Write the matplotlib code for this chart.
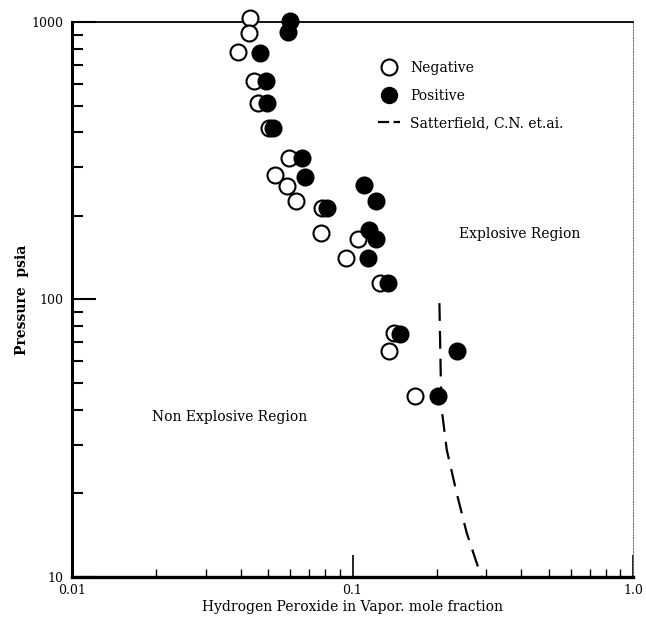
import matplotlib.pyplot as plt
from matplotlib.lines import Line2D

# negative (no explosion) tests, open circles
neg_x = [0.0431, 0.0429, 0.0390, 0.0447, 0.0459, 0.0505, 0.0592, 0.0529, 0.0583,
         0.0629, 0.0779, 0.0772, 0.1049, 0.0948, 0.1253, 0.1406, 0.1353, 0.167]
neg_p = [1031, 911, 781, 614, 512, 416, 323, 281, 256,
         226, 214, 174, 165, 141.5, 115, 75.5, 65, 45]

# positive (explosion) tests, filled circles
pos_x = [0.0599, 0.0587, 0.0468, 0.0490, 0.0494, 0.0519, 0.0661, 0.0677, 0.0811,
         0.1102, 0.1213, 0.1148, 0.1213, 0.1138, 0.1342, 0.1477, 0.2352, 0.2023]
pos_p = [1011, 918, 771, 613, 509, 414, 324, 277, 214,
         259, 226, 178, 165, 141.5, 115, 75, 65, 45]

# Satterfield et al. limit curve
sat_x = [0.204, 0.2063, 0.208, 0.2167, 0.2352, 0.2553, 0.2773, 0.2888]
sat_p = [97, 52.7, 40, 28.7, 20, 14.4, 11.2, 10.0]

plt.rcParams['font.family'] = ['DejaVu Serif']

fig = plt.figure(figsize=(6.46, 6.19), dpi=100)
ax = fig.add_axes([0.1115, 0.0679, 0.8685, 0.8966])
ax.set_xscale('log')
ax.set_yscale('log')
ax.set_xlim(0.01, 1.0)
ax.set_ylim(10, 1000)

ax.plot(sat_x, sat_p, color='black', lw=1.6, dashes=(8, 4.5))
ax.plot(neg_x, neg_p, 'o', ms=11.5, mfc='white', mec='black', mew=1.5,
        clip_on=False, zorder=3)
ax.plot(pos_x, pos_p, 'o', ms=11.5, mfc='black', mec='black', mew=1.5,
        clip_on=False, zorder=4)

ax.text(0.69, 0.611, 'Explosive Region', transform=ax.transAxes, fontsize=10)
ax.text(0.142, 0.281, 'Non Explosive Region', transform=ax.transAxes, fontsize=10)

handles = [
    Line2D([], [], ls='none', marker='o', ms=11.5, mfc='white', mec='black', mew=1.5),
    Line2D([], [], ls='none', marker='o', ms=11.5, mfc='black', mec='black'),
    Line2D([], [], color='black', lw=1.6, dashes=(5, 2)),
]
ax.legend(handles, ['Negative', 'Positive', 'Satterfield, C.N. et.ai.'],
          loc='upper left', bbox_to_anchor=(0.533, 0.942), frameon=False,
          fontsize=10, handlelength=1.6, handletextpad=0.7, labelspacing=0.98,
          borderpad=0)

ax.set_xticks([0.01, 0.1, 1.0])
ax.set_xticklabels(['0.01', '0.1', '1.0'])
ax.set_yticks([10, 100, 1000])
ax.set_yticklabels(['10', '100', '1000'])
ax.tick_params(axis='both', which='both', direction='in', labelsize=9)
ax.tick_params(axis='y', which='major', length=17, width=1.5, pad=6)
ax.tick_params(axis='y', which='minor', length=8, width=1.5)
ax.tick_params(axis='x', which='major', length=16, width=1.2, pad=5)
ax.tick_params(axis='x', which='minor', length=6, width=1.0)

ax.spines['left'].set_linewidth(2.2)
ax.spines['bottom'].set_linewidth(2.4)
ax.spines['top'].set_linewidth(1.3)
ax.spines['right'].set_linewidth(0.8)
ax.spines['right'].set_linestyle((0, (1, 1.5)))
ax.spines['right'].set_color('#777777')

ax.set_xlabel('Hydrogen Peroxide in Vapor. mole fraction', fontsize=10, labelpad=2)
ax.set_ylabel('Pressure  psia', fontsize=10, fontweight='bold', labelpad=2)

fig.savefig('out.png', dpi=100)
